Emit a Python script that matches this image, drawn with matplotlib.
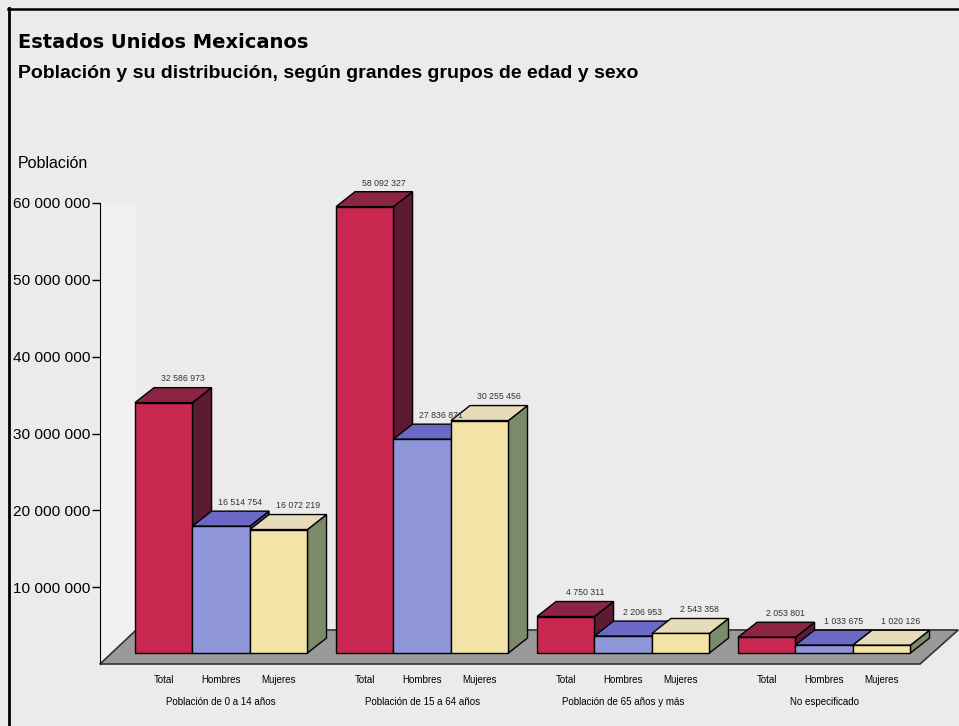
import matplotlib.pyplot as plt
from matplotlib.patches import Polygon
from matplotlib.lines import Line2D

plt.rcParams['font.family'] = ['Liberation Sans', 'DejaVu Sans']

# Datos
grupos = ['Población de 0 a 14 años', 'Población de 15 a 64 años',
          'Población de 65 años y más', 'No especificado']
series = ['Total', 'Hombres', 'Mujeres']
total = [32586973, 58092327, 4750311, 2053801]
hombres = [16514754, 27836871, 2206953, 1033675]
mujeres = [16072219, 30255456, 2543358, 1020126]
yticks = [10000000, 20000000, 30000000, 40000000, 50000000, 60000000]

# colores (frente, tapa, lado)
colores = {
    'Total': ('#c8284f', '#8c2444', '#5c1a33'),
    'Hombres': ('#8f95d9', '#6a69c6', '#4c4a8e'),
    'Mujeres': ('#f3e3a6', '#e6dcb9', '#7b8a68'),
}

# geometria de la pseudo-3D
W = 0.286      # ancho de barra (unidades de grupo)
X0 = 0.174     # inicio del primer bar en el grupo
DX = 0.095     # profundidad en x
DY = 1.95e6    # profundidad en y
BASE = 1.43e6  # base de la cara frontal sobre el piso
FDX, FDY = 0.18, 4.43e6


def fmt(v):
    return f'{v:,}'.replace(',', ' ')


fig = plt.figure(figsize=(9.59, 7.26), dpi=100, facecolor='#ebebeb')

# marco
fig.add_artist(Line2D([9 / 959, 9 / 959], [0, 1 - 8 / 726], color='black', lw=2))
fig.add_artist(Line2D([8 / 959, 1], [1 - 9 / 726, 1 - 9 / 726], color='black', lw=1.8))

fig.text(18 / 959, 1 - 42 / 726, 'Estados Unidos Mexicanos', fontsize=14,
         fontweight='bold', va='center', ha='left', family='DejaVu Sans')
fig.text(18 / 959, 1 - 73 / 726,
         'Población y su distribución, según grandes grupos de edad y sexo',
         fontsize=14, fontweight='bold', va='center', ha='left')
fig.text(18 / 959, 1 - 163 / 726, 'Población', fontsize=11.5, va='center', ha='left')

ax = fig.add_axes([100 / 959, (726 - 664) / 726, 859 / 959, (664 - 203) / 726])
ax.set_xlim(0, 859 / 201)
ax.set_ylim(0, 60e6)
ax.patch.set_alpha(0)

# pared izquierda y piso
ax.add_patch(Polygon([(0, 0), (FDX, FDY), (FDX, 60e6), (0, 60e6)], closed=True,
                     facecolor='#f1f1f1', edgecolor='none', zorder=1, clip_on=False))
ax.add_patch(Polygon([(0, 0), (4.08, 0), (4.08 + FDX + 0.01, FDY), (FDX, FDY)], closed=True,
                     facecolor='#9a9a9a', edgecolor='#333333', lw=1.2, zorder=2, clip_on=False))

valores = {'Total': total, 'Hombres': hombres, 'Mujeres': mujeres}
for i, g in enumerate(grupos):
    for j, s in enumerate(series):
        v = valores[s][i]
        front, top, side = colores[s]
        x1 = i + X0 + j * W
        x2 = x1 + W
        y1 = BASE
        y2 = BASE + v
        ax.add_patch(Polygon([(x2, y1), (x2 + DX, y1 + DY), (x2 + DX, y2 + DY), (x2, y2)],
                             facecolor=side, edgecolor='black', lw=1, zorder=3, clip_on=False))
        ax.add_patch(Polygon([(x1, y2), (x2, y2), (x2 + DX, y2 + DY), (x1 + DX, y2 + DY)],
                             facecolor=top, edgecolor='black', lw=1, zorder=3, clip_on=False))
        ax.bar(x1, v, bottom=BASE, width=W, align='edge', color=front,
               edgecolor='black', lw=1, zorder=3, clip_on=False)
        ax.annotate(fmt(v), xy=(x1 + W / 2 + DX, y2 + DY), xytext=(0, 3),
                    textcoords='offset points', ha='center', va='bottom',
                    fontsize=6.3, color='#333333', annotation_clip=False, zorder=5)
        ax.annotate(s, xy=(x1 + W / 2, 0), xytext=(0, -11.5), textcoords='offset points',
                    ha='center', va='center', fontsize=7, annotation_clip=False)
    ax.annotate(g, xy=(i + X0 + 1.5 * W, 0), xytext=(0, -27.5), textcoords='offset points',
                ha='center', va='center', fontsize=7, annotation_clip=False)

ax.set_yticks(yticks)
ax.set_yticklabels([fmt(t) for t in yticks], fontsize=11.1)
ax.tick_params(axis='y', length=6, width=1, pad=1)
ax.set_xticks([])
for k in ['top', 'right', 'bottom']:
    ax.spines[k].set_visible(False)
ax.spines['left'].set_bounds(0, 60e6)
ax.spines['left'].set_zorder(4)

fig.savefig('out.png', dpi=100, facecolor=fig.get_facecolor())
